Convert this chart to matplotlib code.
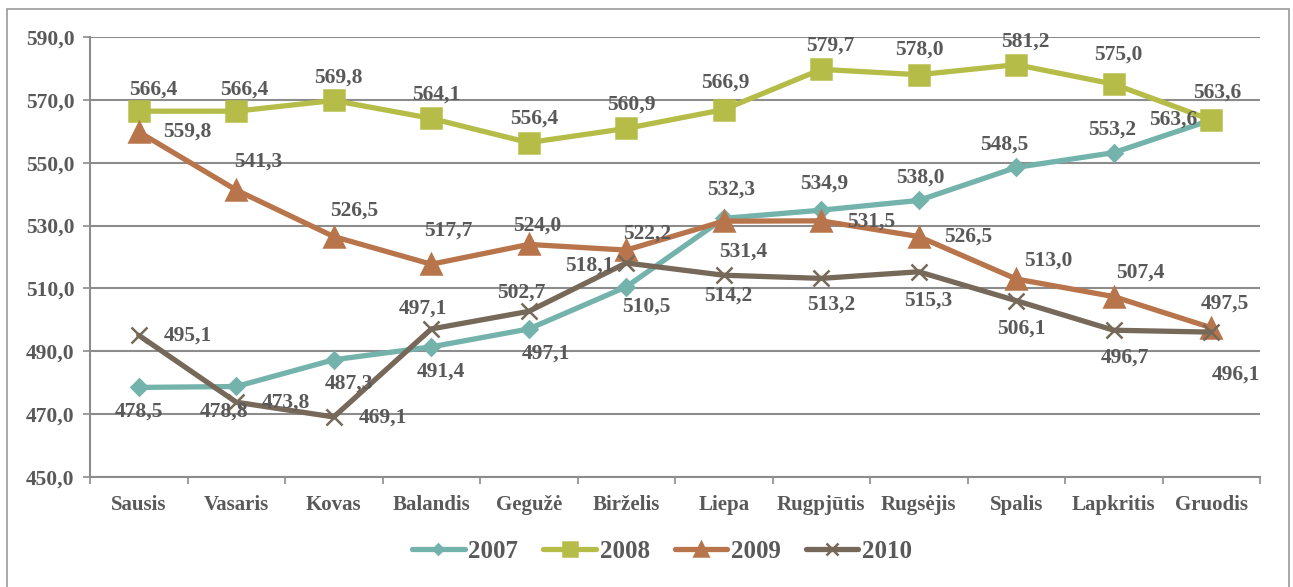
import matplotlib.pyplot as plt
from matplotlib.patches import Rectangle

months = ['Sausis', 'Vasaris', 'Kovas', 'Balandis', 'Gegužė', 'Birželis',
          'Liepa', 'Rugpjūtis', 'Rugsėjis', 'Spalis', 'Lapkritis', 'Gruodis']
years = ['2007', '2008', '2009', '2010']
v2007 = [478.5, 478.8, 487.3, 491.4, 497.1, 510.5, 532.3, 534.9, 538.0, 548.5, 553.2, 563.6]
v2008 = [566.4, 566.4, 569.8, 564.1, 556.4, 560.9, 566.9, 579.7, 578.0, 581.2, 575.0, 563.6]
v2009 = [559.8, 541.3, 526.5, 517.7, 524.0, 522.2, 531.4, 531.5, 526.5, 513.0, 507.4, 497.5]
v2010 = [495.1, 473.8, 469.1, 497.1, 502.7, 518.1, 514.2, 513.2, 515.3, 506.1, 496.7, 496.1]
yticks = [450, 470, 490, 510, 530, 550, 570, 590]

# label offsets in pixels (dx right, dy up) for each point
off2007 = [(0, -24), (-12, -25), (15, -24), (10, -25), (17, -25), (20, -20),
           (7, 29), (3, 27), (2, 23), (-12, 23), (-2, 23), (-38, 0)]
off2008 = [(15, 22), (8, 22), (5, 23), (5, 24), (5, 24), (5, 24),
           (2, 27), (9, 24), (1, 25), (9, 23), (5, 30), (6, 27)]
off2009 = [(49, 0), (22, 28), (20, 26), (17, 34), (8, 19), (21, 16),
           (19, -30), (50, -1), (49, 0), (32, 18), (27, 24), (14, 24)]
off2010 = [(49, 0), (50, 0), (49, -1), (-8, 20), (-7, 19), (-37, -3),
           (4, -20), (10, -26), (9, -29), (5, -28), (11, -27), (25, -42)]

colors = ['#74b3ac', '#b5bd48', '#b8744a', '#76695a']
markers = ['D', 's', '^', 'x']
msizes = [8, 14, 14, 12]
txt = '#595959'
grid_c = '#8c8c8c'

plt.rcParams['font.family'] = ['Liberation Serif', 'DejaVu Serif']
plt.rcParams['font.weight'] = 'bold'

fig = plt.figure(figsize=(12.93, 5.87), dpi=100)
ax = fig.add_axes([90 / 1293, 1 - 477 / 587, 1170 / 1293, 440 / 587])

# outer frame
fig.patches.append(Rectangle((7 / 1293, -0.02), 1282 / 1293, 1 - 9 / 587 + 0.02,
                             transform=fig.transFigure, fill=False,
                             edgecolor='#9a9a9a', lw=1.2))

x = list(range(len(months)))
series = [v2007, v2008, v2009, v2010]
offsets = [off2007, off2008, off2009, off2010]
for vals, offs, c, m, ms, lab in zip(series, offsets, colors, markers, msizes, years):
    ax.plot(x, vals, color=c, lw=3.8, marker=m, ms=ms, mew=1.8,
            mec=c, mfc=c, label=lab, solid_capstyle='round', solid_joinstyle='round')
    for xi, v, (dx, dy) in zip(x, vals, offs):
        ax.annotate(f'{v:.1f}'.replace('.', ','), (xi, v),
                    xytext=(dx * 0.72, dy * 0.72), textcoords='offset points',
                    ha='center', va='center', fontsize=15.5, fontweight='bold', color=txt)

ax.set_xlim(-0.5, 11.5)
ax.set_ylim(450, 590)
ax.set_yticks(yticks)
ax.set_yticklabels([f'{t:.1f}'.replace('.', ',') for t in yticks])
ax.set_xticks(x)
ax.set_xticklabels(months)
ax.set_xticks([i - 0.5 for i in range(13)], minor=True)
ax.tick_params(axis='x', which='major', length=0, pad=13, labelsize=15, labelcolor=txt)
ax.tick_params(axis='x', which='minor', length=5, width=1.2, color=grid_c)
ax.tick_params(axis='y', length=5, width=1.2, color=grid_c, pad=6, labelsize=15.5, labelcolor=txt)
for lbl in ax.get_xticklabels() + ax.get_yticklabels():
    lbl.set_fontweight('bold')

ax.grid(axis='y', color=grid_c, lw=1.5)
ax.set_axisbelow(True)
for s in ['top', 'right']:
    ax.spines[s].set_visible(False)
for s in ['left', 'bottom']:
    ax.spines[s].set_color(grid_c)
    ax.spines[s].set_linewidth(1.5)

fig.legend(loc='center', bbox_to_anchor=(0.512, 1 - 551 / 587), ncol=4, frameon=False,
           handlelength=2.1, handletextpad=0.15, columnspacing=1.0, markerscale=0.7,
           labelcolor=txt, prop={'weight': 'bold', 'size': 18})

fig.savefig('out.png', dpi=100)
